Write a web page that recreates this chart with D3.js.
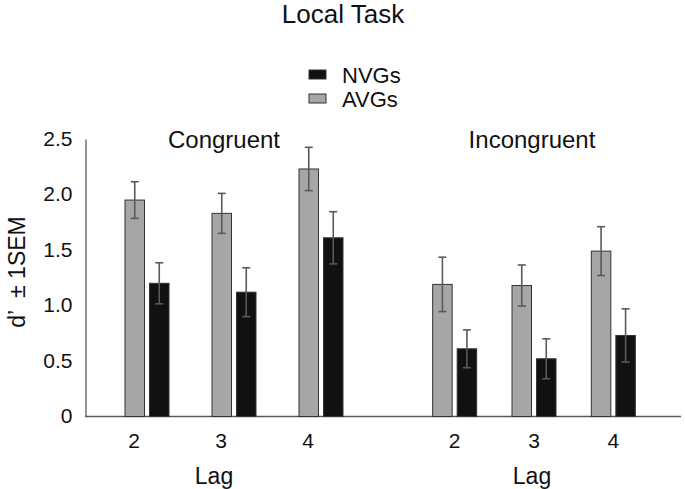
<!DOCTYPE html>
<html>
<head>
<meta charset="utf-8">
<script src="https://cdn.jsdelivr.net/npm/d3@7"></script>
<style>
  body { margin: 0; background: #fff; }
  text { font-family: "Liberation Sans", Arial, sans-serif; fill: #111; }
</style>
</head>
<body>
<script>
var w = 685;
var h = 489;

// data
var conditions = ["Congruent", "Incongruent"];
var lags = ["2", "3", "4"];
var series = ["AVGs", "NVGs"];
var avgCongruent = [1.95, 1.83, 2.23];
var avgIncongruent = [1.19, 1.18, 1.49];
var nvgCongruent = [1.20, 1.12, 1.61];
var nvgIncongruent = [0.61, 0.52, 0.73];
var avgSemCongruent = [0.165, 0.18, 0.195];
var avgSemIncongruent = [0.245, 0.185, 0.22];
var nvgSemCongruent = [0.185, 0.22, 0.235];
var nvgSemIncongruent = [0.17, 0.18, 0.24];
var yTicks = [0, 0.5, 1.0, 1.5, 2.0, 2.5];

var colors = { "AVGs": "#a6a6a6", "NVGs": "#111111" };

var rows = [];
conditions.forEach(function(c, ci){
    lags.forEach(function(l, li){
        rows.push({cond: c, lag: l, series: "AVGs",
            value: ci === 0 ? avgCongruent[li] : avgIncongruent[li],
            sem: ci === 0 ? avgSemCongruent[li] : avgSemIncongruent[li]});
        rows.push({cond: c, lag: l, series: "NVGs",
            value: ci === 0 ? nvgCongruent[li] : nvgIncongruent[li],
            sem: ci === 0 ? nvgSemCongruent[li] : nvgSemIncongruent[li]});
    });
});

var svg = d3.select("body")
            .append("svg")
            .attr("width", w)
            .attr("height", h);

var y = d3.scaleLinear().domain([0, 2.5]).range([416.5, 139]);

// one lag scale per panel
var xLag = {
    "Congruent": d3.scaleBand().domain(lags).range([103.5, 364.5]),
    "Incongruent": d3.scaleBand().domain(lags).range([415, 653])
};
var labelShift = { "Congruent": -13, "Incongruent": 0 };
var xSeries = d3.scaleBand().domain(series).range([-22, 22]).paddingInner(0.204);

function cx(d){
    return xLag[d.cond](d.lag) + xLag[d.cond].bandwidth() / 2;
}

// title
svg.append("text")
    .attr("x", 343).attr("y", 23)
    .attr("text-anchor", "middle")
    .attr("font-size", "26px")
    .text("Local Task");

// legend
var legendOrder = ["NVGs", "AVGs"];
var legend = svg.selectAll(".legend")
    .data(legendOrder)
    .enter()
    .append("g")
    .attr("class", "legend")
    .attr("transform", function(d, i){ return "translate(309," + (70 + i * 24) + ")"; });
legend.append("rect")
    .attr("width", 17).attr("height", 9)
    .attr("fill", function(d){ return colors[d]; })
    .attr("stroke", "#333").attr("stroke-width", 1);
legend.append("text")
    .attr("x", 33).attr("y", 13)
    .attr("font-size", "22px")
    .text(function(d){ return d; });

// y axis
var yAxis = d3.axisLeft(y)
    .tickValues(yTicks)
    .tickSize(0)
    .tickPadding(13)
    .tickFormat(function(d){ return d === 0 ? "0" : d3.format(".1f")(d); });
var gy = svg.append("g")
    .attr("transform", "translate(85.5,0)")
    .call(yAxis);
gy.select(".domain").attr("stroke", "#595959").attr("stroke-width", 1.3);
gy.selectAll("text")
    .attr("font-size", "21px")
    .attr("font-family", "Liberation Sans, Arial, sans-serif")
    .attr("fill", "#111")
    .attr("dy", "0.3em");

svg.append("text")
    .attr("transform", "translate(25,272) rotate(-90)")
    .attr("text-anchor", "middle")
    .attr("font-size", "23px")
    .attr("xml:space", "preserve")
    .style("white-space", "pre")
    .text("d\u2019  \u00b1 1SEM");

// x axis line
svg.append("line")
    .attr("x1", 85).attr("x2", 681)
    .attr("y1", y(0)).attr("y2", y(0))
    .attr("stroke", "#595959").attr("stroke-width", 1.3);

// bars
svg.selectAll("rect.bar")
    .data(rows)
    .enter()
    .append("rect")
    .attr("class", "bar")
    .attr("x", function(d){ return cx(d) + xSeries(d.series); })
    .attr("y", function(d){ return y(d.value); })
    .attr("width", xSeries.bandwidth())
    .attr("height", function(d){ return y(0) - y(d.value); })
    .attr("fill", function(d){ return colors[d.series]; })
    .attr("stroke", "#333")
    .attr("stroke-width", 1);

// error bars
var err = svg.selectAll("g.err")
    .data(rows)
    .enter()
    .append("g")
    .attr("class", "err")
    .attr("transform", function(d){
        return "translate(" + (cx(d) + xSeries(d.series) + xSeries.bandwidth() / 2) + ",0)";
    })
    .attr("stroke", "#5a5a5a")
    .attr("stroke-width", 1.6);
err.append("line")
    .attr("y1", function(d){ return y(d.value + d.sem); })
    .attr("y2", function(d){ return y(d.value - d.sem); });
err.append("line")
    .attr("x1", -4).attr("x2", 4)
    .attr("y1", function(d){ return y(d.value + d.sem); })
    .attr("y2", function(d){ return y(d.value + d.sem); });
err.append("line")
    .attr("x1", -4).attr("x2", 4)
    .attr("y1", function(d){ return y(d.value - d.sem); })
    .attr("y2", function(d){ return y(d.value - d.sem); });

// lag tick labels
conditions.forEach(function(c){
    svg.selectAll(null)
        .data(lags)
        .enter()
        .append("text")
        .attr("x", function(d){ return xLag[c](d) + xLag[c].bandwidth() / 2 + labelShift[c]; })
        .attr("y", 448)
        .attr("text-anchor", "middle")
        .attr("font-size", "21px")
        .text(function(d){ return d; });
});

// panel labels and axis titles
svg.selectAll(".panel")
    .data(conditions)
    .enter()
    .append("text")
    .attr("class", "panel")
    .attr("x", function(d){ return d === "Congruent" ? 224 : 532; })
    .attr("y", 148)
    .attr("text-anchor", "middle")
    .attr("font-size", "24px")
    .text(function(d){ return d; });

svg.selectAll(".lagTitle")
    .data(conditions)
    .enter()
    .append("text")
    .attr("class", "lagTitle")
    .attr("x", function(d){ return d === "Congruent" ? 214 : 532; })
    .attr("y", 484)
    .attr("text-anchor", "middle")
    .attr("font-size", "23px")
    .text("Lag");
</script>
</body>
</html>
